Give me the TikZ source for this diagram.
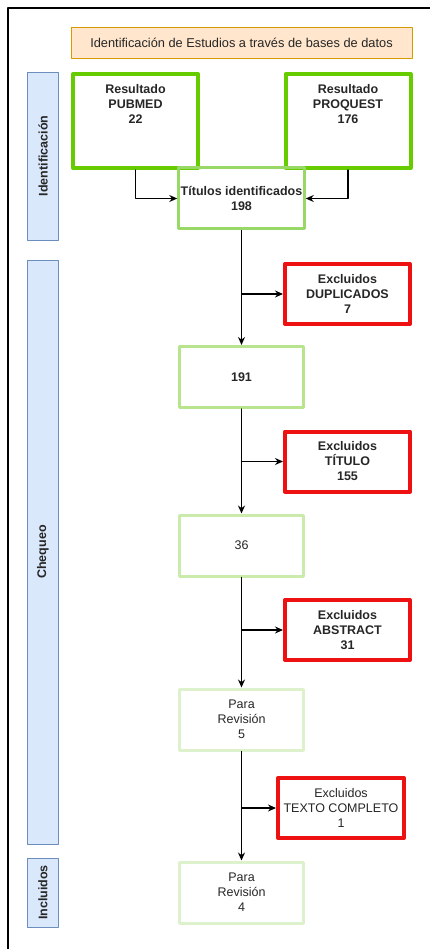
\documentclass[tikz,border=0pt]{standalone}
\usepackage{fontspec}
\setmainfont{Liberation Sans}
\usepackage{xcolor}
\usetikzlibrary{positioning,calc,arrows.meta}

\definecolor{hdrfill}{HTML}{FFE6CC}
\definecolor{hdrline}{HTML}{D79B00}
\definecolor{barfill}{HTML}{DAE8FC}
\definecolor{barline}{HTML}{6C8EBF}
\definecolor{grA}{HTML}{66CC00}
\definecolor{grB}{HTML}{97D866}
\definecolor{grC}{HTML}{B8E48E}
\definecolor{grD}{HTML}{CAEBAC}
\definecolor{grE}{HTML}{DDF1CD}
\definecolor{exred}{HTML}{EE1111}

\begin{document}
\begin{tikzpicture}[x=1pt,y=-1pt,>={Stealth[length=8pt,width=7pt]},line cap=round,line join=round,
	font=\fontsize{12.5}{15}\selectfont,
	box/.style={rectangle,align=center,text=black!85,inner sep=2pt},
	srcbox/.style={box,draw=grA,line width=4pt,minimum width=125,minimum height=94},
	keepbox/.style={box,line width=3pt,minimum width=124,minimum height=61},
	exbox/.style={box,draw=exred,line width=4pt,minimum width=125,minimum height=60,font=\fontsize{12.5}{15}\selectfont\bfseries},
	sidebar/.style={box,draw=barline,fill=barfill,line width=0.8pt,minimum height=31,rotate=90,font=\fontsize{12.5}{15}\selectfont\bfseries},
	flow/.style={->,line width=1.2pt}]
	\useasboundingbox (0,0) rectangle (430,949);
	
	% frame
	\draw[line width=2.5pt] (8,949) -- (8,8) -- (430,8);
	
	% header
	\node[box,draw=hdrline,fill=hdrfill,line width=0.8pt,minimum width=341,minimum height=31,font=\fontsize{12.8}{15}\selectfont] (head) at (241.5,42.5) {Identificación de Estudios a través de bases de datos};
	
	% side bars
	\node[sidebar,minimum width=168] (idbar) at (43,156) {Identificación};
	\node[sidebar,minimum width=584] (chkbar) at (43,552) {Chequeo};
	\node[sidebar,minimum width=69] (incbar) at (43,892.5) {Incluidos};
	
	% sources
	\node[srcbox] (pubmed) at (135.5,121) {};
	\node[srcbox] (proquest) at (348,121) {};
	\node[box,anchor=north,font=\fontsize{12.5}{15}\selectfont\bfseries] (pubtxt) at ($(pubmed.north)+(0,10)$) {Resultado\\PUBMED\\22};
	\node[box,anchor=north,font=\fontsize{12.5}{15}\selectfont\bfseries] (protxt) at ($(proquest.north)+(0,10)$) {Resultado\\PROQUEST\\176};
	
	% kept records
	\node[keepbox,draw=grB,font=\fontsize{12.5}{15}\selectfont\bfseries] (tit) at (241.5,198.5) {Títulos identificados\\198};
	\node[keepbox,draw=grC,font=\fontsize{12.5}{15}\selectfont\bfseries] (n191) at (241.5,377) {191};
	\node[keepbox,draw=grD] (n36) at (241.5,545.5) {36};
	\node[keepbox,draw=grE] (rev5) at (241.5,719.5) {Para\\Revisión\\5};
	\node[keepbox,draw=grE] (rev4) at (241.5,892.5) {Para\\Revisión\\4};
	
	% excluded
	\node[exbox] (dup) at (347.5,294) {Excluidos\\DUPLICADOS\\7};
	\node[exbox] (extit) at (347.5,461.5) {Excluidos\\TÍTULO\\155};
	\node[exbox] (exabs) at (347.5,630) {Excluidos\\ABSTRACT\\31};
	\node[exbox,font=\fontsize{12.5}{15}\selectfont,minimum width=126] (extxt) at (341,808) {Excluidos\\TEXTO COMPLETO\\1};
	
	% connectors
	\draw[flow] (pubmed) |- (tit);
	\draw[flow] (proquest) |- (tit);
	\draw[flow] (tit) -- (n191);
	\draw[flow] (n191) -- (n36);
	\draw[flow] (n36) -- (rev5);
	\draw[flow] (rev5) -- (rev4);
	\draw[flow] (tit.south |- dup.west) -- (dup.west);
	\draw[flow] (n191.south |- extit.west) -- (extit.west);
	\draw[flow] (n36.south |- exabs.west) -- (exabs.west);
	\draw[flow] (rev5.south |- extxt.west) -- (extxt.west);
\end{tikzpicture}
\end{document}
